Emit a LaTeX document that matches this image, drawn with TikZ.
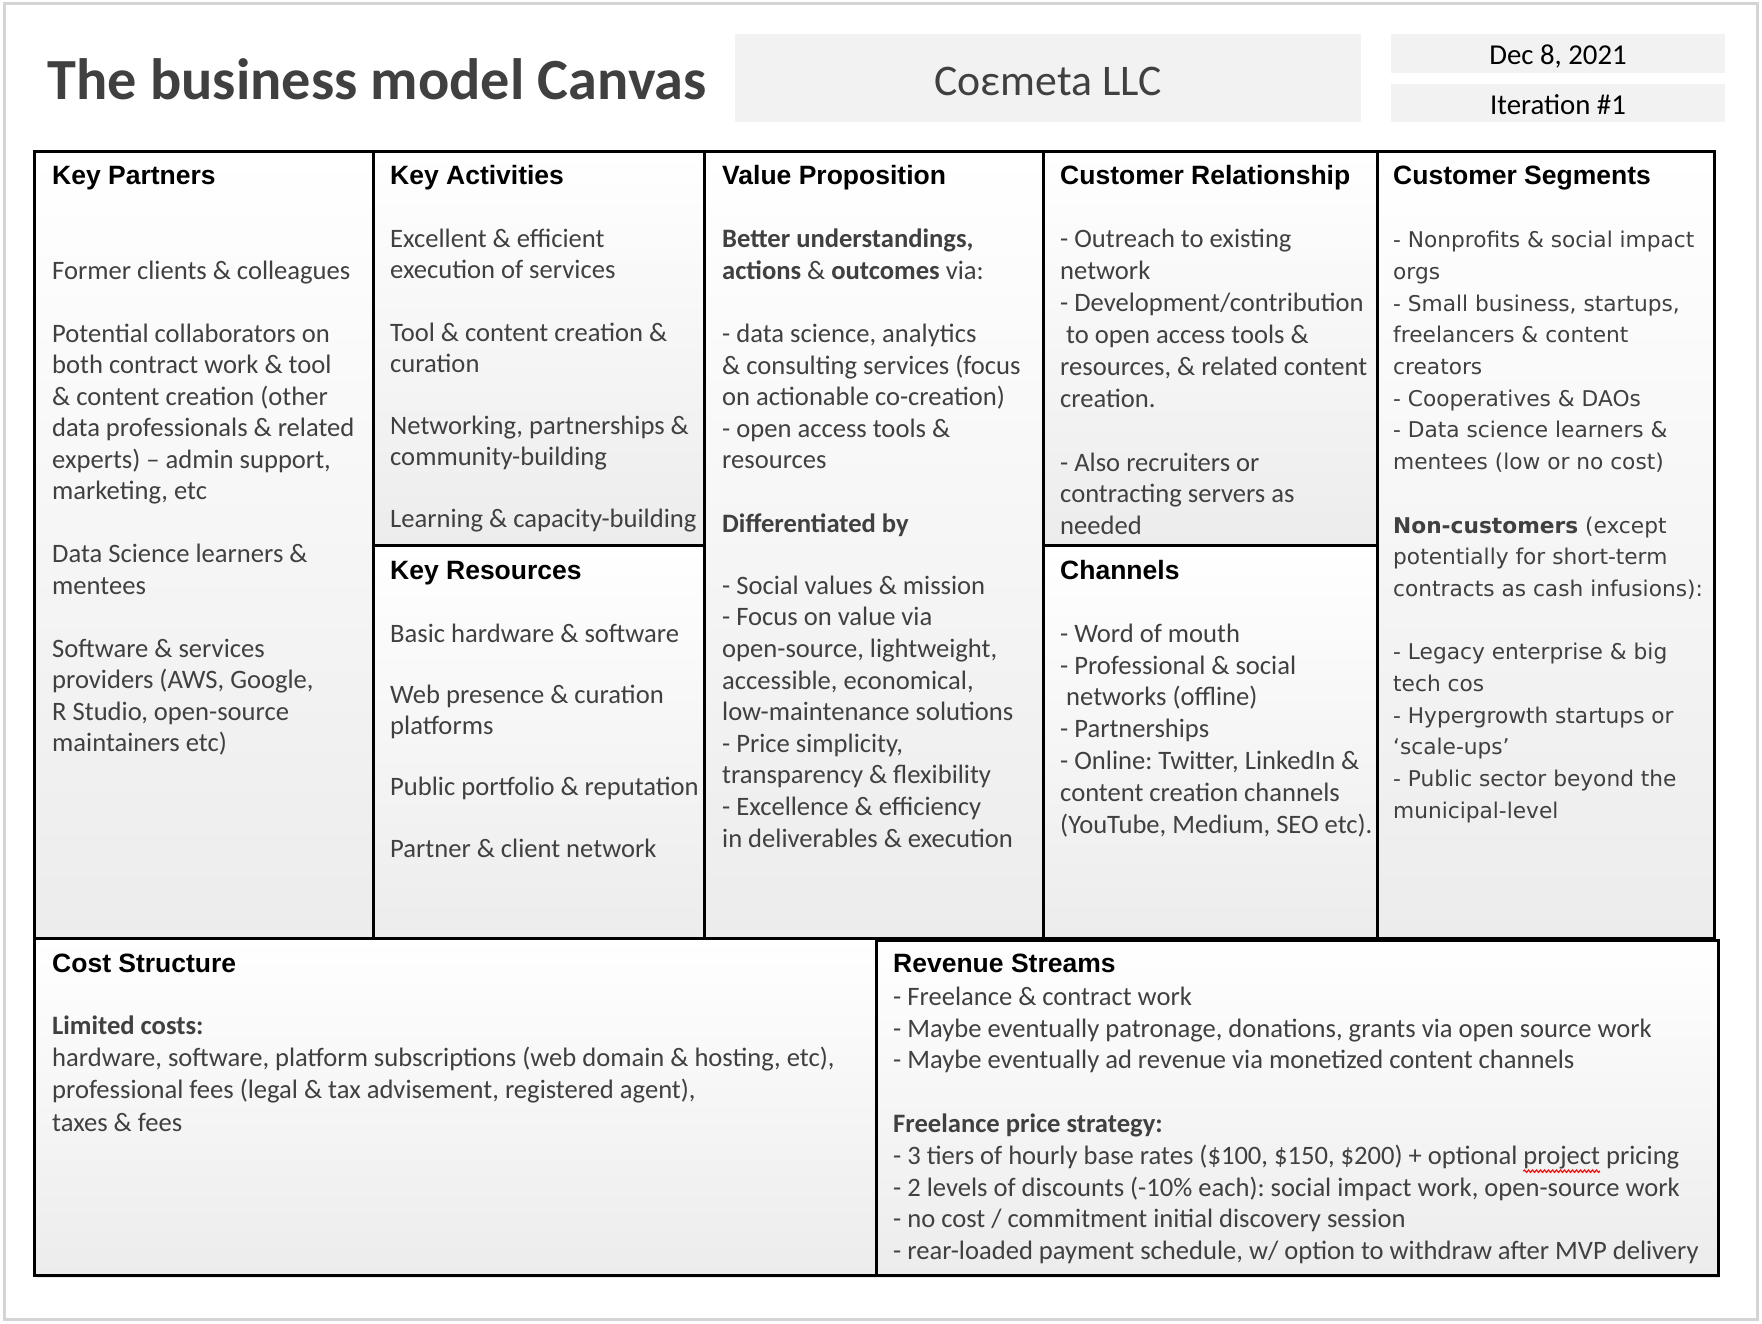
\documentclass[tikz,border=0pt]{standalone}
\usepackage{fontspec}
\setmainfont{Carlito}
\newfontfamily\titlefont{Carlito}
\newfontfamily\headfont{Liberation Sans}
\newfontfamily\segfont{DejaVu Sans}
\usetikzlibrary{shadows,decorations.pathmorphing}
\definecolor{txt}{HTML}{404040}
\definecolor{boxbot}{HTML}{ECECEC}
\definecolor{hdrfill}{HTML}{F2F2F2}
\definecolor{framegray}{HTML}{D4D4D4}
\newlength\wavepre
\newlength\wavewd
\newcommand\bodyfont[1]{\fontsize{26.6}{#1}\selectfont\spaceskip=6pt plus 1pt minus 0.5pt\xspaceskip=6pt plus 1pt minus 0.5pt\relax}
\tikzset{
  cell/.style={draw=black, line width=3pt, top color=white, bottom color=boxbot,
    drop shadow={opacity=0.18, shadow xshift=2pt, shadow yshift=-3pt}},
  hdrbox/.style={fill=hdrfill, draw=none},
  hdr/.style={anchor=base west, inner sep=0pt, text=black,
    font=\headfont\bfseries\fontsize{26.5}{30}\selectfont},
  body/.style={anchor=base west, inner sep=0pt, align=flush left, text=txt, text width=900pt,
    font=\bodyfont{#1}},
  segbody/.style={anchor=base west, inner sep=0pt, align=flush left, text=txt, text width=900pt,
    font=\segfont\fontsize{21.7}{#1}\selectfont},
  spell/.style={draw=red, line width=1.1pt, decorate,
    decoration={snake, amplitude=1.2pt, segment length=4pt}},
}
\begin{document}
\settowidth{\wavepre}{\bodyfont{31.8}- 3 tiers of hourly base rates (\$100, \$150, \$200) + optional }%
\settowidth{\wavewd}{\bodyfont{31.8}project}%
\begin{tikzpicture}[x=1pt,y=-1pt]
\useasboundingbox (0,0) rectangle (1762,1324);
\fill[white] (0,0) rectangle (1762,1324);
\draw[framegray, line width=3pt] (4,4) rectangle (1757,1319);

% header
\node[anchor=base west, inner sep=0pt, text=txt, font=\titlefont\bfseries\fontsize{58.3}{62}\selectfont] (title) at (47.5,100) {The business model Canvas};
\path[hdrbox] (735,34) rectangle (1361,122);
\node[anchor=base, inner sep=0pt, text=txt, font=\titlefont\fontsize{43.7}{46}\selectfont] (company) at (1048,95.5) {Coεmeta LLC};
\path[hdrbox] (1391,34) rectangle (1725,73);
\node[anchor=base, inner sep=0pt, text=black, font=\titlefont\fontsize{28.8}{32}\selectfont] (date) at (1558,64.5) {Dec 8, 2021};
\path[hdrbox] (1391,84) rectangle (1725,122);
\node[anchor=base, inner sep=0pt, text=black, font=\titlefont\fontsize{28.8}{32}\selectfont] (iter) at (1558,114.5) {Iteration \#1};

% cells
\path[cell] (34,152) rectangle (373,938);
\path[cell] (373,152) rectangle (704,545);
\path[cell] (373,545) rectangle (704,938);
\path[cell] (704,152) rectangle (1043,938);
\path[cell] (1043,152) rectangle (1377,545);
\path[cell] (1043,545) rectangle (1377,938);
\path[cell] (1377,152) rectangle (1714,938);
\path[cell] (34,938) rectangle (876,1275);
\path[cell] (876,940) rectangle (1718,1275);

% headings
\node[hdr] (kph) at (52,185) {Key Partners};
\node[hdr] (kah) at (390,185) {Key Activities};
\node[hdr] (krh) at (390,579.5) {Key Resources};
\node[hdr] (vph) at (722,185) {Value Proposition};
\node[hdr] (crh) at (1060,185) {Customer Relationship};
\node[hdr] (chh) at (1060,579.5) {Channels};
\node[hdr] (csh) at (1393,185) {Customer Segments};
\node[hdr] (coh) at (52,972.6) {Cost Structure};
\node[hdr] (rsh) at (893,972.6) {Revenue Streams};

% bodies
\node[body=31.5pt] (kpb) at (52,279.3) {Former clients \& colleagues\\[31.5pt]
Potential collaborators on\\
both contract work \& tool\\
\& content creation (other\\
data professionals \& related\\
experts) – admin support,\\
marketing, etc\\[31.5pt]
Data Science learners \&\\
mentees\\[31.5pt]
Software \& services\\
providers (AWS, Google,\\
R Studio, open-source\\
maintainers etc)};

\node[body=31.1pt] (kab) at (390,247.8) {Excellent \& efficient\\
execution of services\\[31.1pt]
Tool \& content creation \&\\
curation\\[31.1pt]
Networking, partnerships \&\\
community-building\\[31.1pt]
Learning \& capacity-building};

\node[body=30.7pt] (krb) at (390,642.3) {Basic hardware \& software\\[30.7pt]
Web presence \& curation\\
platforms\\[30.7pt]
Public portfolio \& reputation\\[30.7pt]
Partner \& client network};

\node[body=31.6pt] (vpb) at (722,247.8) {\textbf{Better understandings,}\\
\textbf{actions} \& \textbf{outcomes} via:\\[31.6pt]
- data science, analytics\\
\& consulting services (focus\\
on actionable co-creation)\\
- open access tools \&\\
resources\\[31.6pt]
\textbf{Differentiated by}\\[30.6pt]
- Social values \& mission\\
- Focus on value via\\
open-source, lightweight,\\
accessible, economical,\\
low-maintenance solutions\\
- Price simplicity,\\
transparency \& flexibility\\
- Excellence \& efficiency\\
in deliverables \& execution};

\node[body=31.9pt] (crb) at (1060,247.8) {- Outreach to existing\\
network\\
- Development/contribution\\
\hspace*{6pt}to open access tools \&\\
resources, \& related content\\
creation.\\[31.9pt]
- Also recruiters or\\
contracting servers as\\
needed};

\node[body=31.8pt] (chb) at (1060,642.3) {- Word of mouth\\
- Professional \& social\\
\hspace*{6pt}networks (offline)\\
- Partnerships\\
- Online: Twitter, LinkedIn \&\\
content creation channels\\
(YouTube, Medium, SEO etc).};

\node[segbody=31.7pt] (csb) at (1393,247.8) {- Nonprofits \& social impact\\
orgs\\
- Small business, startups,\\
freelancers \& content\\
creators\\
- Cooperatives \& DAOs\\
- Data science learners \&\\
mentees (low or no cost)\\[31.7pt]
\textbf{Non-customers} (except\\
potentially for short-term\\
contracts as cash infusions):\\[31.7pt]
- Legacy enterprise \& big\\
tech cos\\
- Hypergrowth startups or\\
‘scale-ups’\\
- Public sector beyond the\\
municipal-level};

\node[body=32.2pt] (cob) at (52,1034.4) {\textbf{Limited costs:}\\
hardware, software, platform subscriptions (web domain \& hosting, etc),\\
professional fees (legal \& tax advisement, registered agent),\\
taxes \& fees};

\node[body=31.8pt] (rsb) at (893,1005.2) {- Freelance \& contract work\\
- Maybe eventually patronage, donations, grants via open source work\\
- Maybe eventually ad revenue via monetized content channels\\[31.8pt]
\textbf{Freelance price strategy:}\\
- 3 tiers of hourly base rates (\$100, \$150, \$200) + optional project pricing\\
- 2 levels of discounts (-10\% each): social impact work, open-source work\\
- no cost / commitment initial discovery session\\
- rear-loaded payment schedule, w/ option to withdraw after MVP delivery};

% spelling squiggle under "project"
\coordinate (wavestart) at ([xshift=\wavepre, yshift=-166pt]rsb.base west);
\draw[spell] (wavestart) -- ++(\wavewd,0);
\end{tikzpicture}
\end{document}
